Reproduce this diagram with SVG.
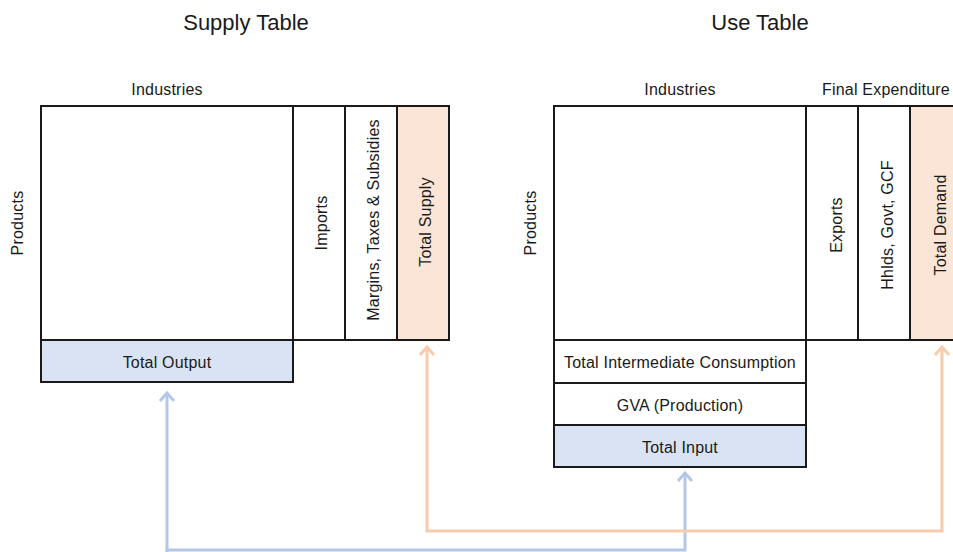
<svg xmlns="http://www.w3.org/2000/svg" width="953" height="552" viewBox="0 0 953 552">
<defs>
<style>
text{font-family:"Liberation Sans","Open Sans",Arial,sans-serif;fill:#1a1a1a;font-size:16px;letter-spacing:0.2px;text-anchor:middle;dominant-baseline:central}
.title{font-size:22px;letter-spacing:0}
.cell{fill:#fff;stroke:#1a1a1a;stroke-width:2}
.blue{fill:#dae3f3;stroke:#1a1a1a;stroke-width:2}
.orange{fill:#fbe5d6;stroke:#1a1a1a;stroke-width:2}
.cb{fill:none;stroke:#b4c7e7;stroke-width:3}
.co{fill:none;stroke:#f8cbad;stroke-width:3}
</style>
</defs>
<rect width="953" height="552" fill="#fff"/>

<g id="connectors">
<path class="cb" d="M167,552 L167,550 L685,550 L685,474"/>
<path class="cb" d="M167,552 L167,393"/>
<path class="cb" d="M160,401 L167,393 L174,401"/>
<path class="cb" d="M678,481 L685,473 L692,481"/>
<path class="co" d="M427,348 L427,531 L942,531 L942,348"/>
<path class="co" d="M420,355 L427,347 L434,355"/>
<path class="co" d="M935,355 L942,347 L949,355"/>
</g>

<g id="supply-title"><text class="title" x="246" y="22">Supply Table</text></g>
<g id="supply-industries-label"><text x="167" y="89">Industries</text></g>
<g id="supply-products-label"><text transform="translate(17,223) rotate(-90)">Products</text></g>
<g id="supply-matrix"><rect class="cell" x="41" y="106" width="252" height="234"/></g>
<g id="imports"><rect class="cell" x="293" y="106" width="52" height="234"/><text transform="translate(321,223) rotate(-90)">Imports</text></g>
<g id="margins"><rect class="cell" x="345" y="106" width="52" height="234"/><text transform="translate(373,220) rotate(-90)">Margins, Taxes &amp; Subsidies</text></g>
<g id="total-supply"><rect class="orange" x="397" y="106" width="52" height="234"/><text transform="translate(425,222) rotate(-90)">Total Supply</text></g>
<g id="total-output"><rect class="blue" x="41" y="340" width="252" height="42"/><text x="167" y="362">Total Output</text></g>
<g id="supply-bottom-line"><line x1="293" y1="340" x2="449" y2="340" stroke="#1a1a1a" stroke-width="2"/></g>

<g id="use-title"><text class="title" x="760" y="22">Use Table</text></g>
<g id="use-industries-label"><text x="680" y="89">Industries</text></g>
<g id="final-expenditure-label"><text x="886" y="89">Final Expenditure</text></g>
<g id="use-products-label"><text transform="translate(530,223) rotate(-90)">Products</text></g>
<g id="use-matrix"><rect class="cell" x="554" y="106" width="252" height="234"/></g>
<g id="exports"><rect class="cell" x="806" y="106" width="52" height="234"/><text transform="translate(836,225) rotate(-90)">Exports</text></g>
<g id="hhlds"><rect class="cell" x="858" y="106" width="52" height="234"/><text transform="translate(887,225) rotate(-90)">Hhlds, Govt, GCF</text></g>
<g id="total-demand"><rect class="orange" x="910" y="106" width="52" height="234"/><text transform="translate(940,225) rotate(-90)">Total Demand</text></g>
<g id="tic"><rect class="cell" x="554" y="340" width="252" height="43"/><text x="680" y="362">Total Intermediate Consumption</text></g>
<g id="gva"><rect class="cell" x="554" y="383" width="252" height="42"/><text x="680" y="405">GVA (Production)</text></g>
<g id="total-input"><rect class="blue" x="554" y="425" width="252" height="42"/><text x="680" y="447">Total Input</text></g>
</svg>
